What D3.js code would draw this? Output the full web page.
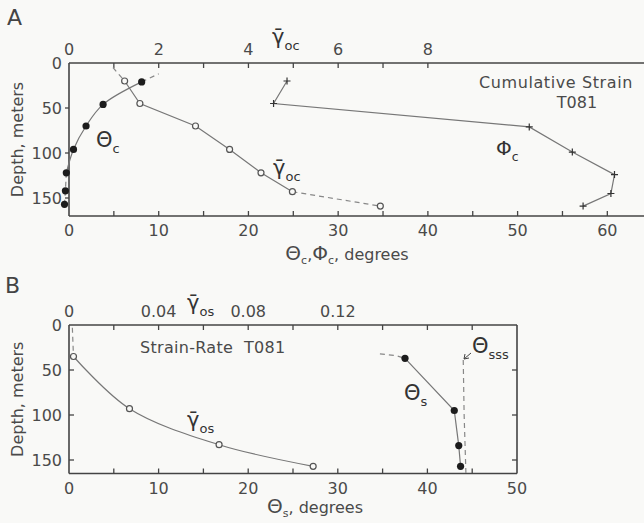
<!DOCTYPE html>
<html>
<head>
<meta charset="utf-8">
<style>
  body { margin: 0; background: #f9f9f7; }
  svg { font-family: "DejaVu Sans", sans-serif; fill: #4a4a4a; }
  .ax { stroke: #444; stroke-width: 1.6; fill: none; }
  .tk { stroke: #444; stroke-width: 1.3; }
  .ln { stroke: #777; stroke-width: 1.2; fill: none; }
  .dash { stroke: #888; stroke-width: 1.2; fill: none; stroke-dasharray: 5,4; }
  .lbl { font-size: 16px; }
</style>
</head>
<body>
<script src="https://cdn.jsdelivr.net/npm/d3@7"></script>
<div id="chart"></div>
<script>
// ---- panel A: cumulative strain ----
var depthThetaC = [21, 46, 70, 96, 122, 142, 157];
var thetaC      = [8.1, 3.8, 1.9, 0.5, -0.3, -0.4, -0.5];
var thetaCExtDepth = [21, 12];
var thetaCExt      = [8.1, 10];

var depthGammaOC = [20, 45, 70, 96, 122, 143, 159];
var gammaOC      = [1.24, 1.58, 2.82, 3.58, 4.28, 4.98, 6.94];
var gammaOCExtDepth = [5, 20];
var gammaOCExt      = [0.98, 1.24];

var depthPhiC = [20, 45, 71, 99, 124, 145, 159];
var phiC      = [24.3, 22.8, 51.3, 56.1, 60.8, 60.4, 57.3];

var tickDeg   = [0, 10, 20, 30, 40, 50, 60];
var tickTopA  = [0, 2, 4, 6, 8];
var tickDepth = [0, 50, 100, 150];

// ---- panel B: strain rate ----
var depthGammaOS = [35, 93, 133, 157];
var gammaOS      = [0.002, 0.027, 0.067, 0.109];
var gammaOSExtDepth = [3, 35];
var gammaOSExt      = [0.0015, 0.002];

var depthThetaS = [37, 95, 134, 157];
var thetaS      = [37.5, 43.0, 43.5, 43.7];
var thetaSExtDepth = [32, 34, 37];
var thetaSExt      = [34.7, 36.5, 37.5];

var depthThetaSSS = [39, 100, 165];
var thetaSSS      = [44.0, 44.1, 44.3];

var tickDegB  = [0, 10, 20, 30, 40, 50];
var tickTopB  = [0, 0.04, 0.08, 0.12];

var W = 644, H = 523;
var svg = d3.select("#chart").append("svg").attr("width", W).attr("height", H);

function zip(xs, ys) { return xs.map(function(v, i) { return [v, ys[i]]; }); }

function axes(g, x, xt, y, opt) {
  var x0 = x.range()[0], x1 = x.range()[1], y0 = y.range()[0], y1 = y.range()[1];
  g.append("line").attr("class", "ax").attr("x1", x0).attr("x2", x1).attr("y1", y0).attr("y2", y0);
  g.append("line").attr("class", "ax").attr("x1", x0).attr("x2", x1).attr("y1", y1).attr("y2", y1);
  g.append("line").attr("class", "ax").attr("x1", x0).attr("x2", x0).attr("y1", y0).attr("y2", y1);
  if (opt.right) g.append("line").attr("class", "ax").attr("x1", x1).attr("x2", x1).attr("y1", y0).attr("y2", y1);
  // bottom ticks every 5 deg, pointing in
  g.selectAll(".tb").data(d3.range(5, x.domain()[1], 5)).enter().append("line").attr("class", "tk")
    .attr("x1", function(d) { return x(d); }).attr("x2", function(d) { return x(d); })
    .attr("y1", y1).attr("y2", y1 - 5);
  g.selectAll(".tt").data(opt.topTicks).enter().append("line").attr("class", "tk")
    .attr("x1", function(d) { return xt(d); }).attr("x2", function(d) { return xt(d); })
    .attr("y1", y0).attr("y2", y0 + 5);
  g.selectAll(".tl").data(tickDepth.slice(1)).enter().append("line").attr("class", "tk")
    .attr("x1", x0 - opt.lt).attr("x2", x0 + opt.lt2)
    .attr("y1", function(d) { return y(d); }).attr("y2", function(d) { return y(d); });
  if (opt.right) g.selectAll(".tr").data(tickDepth.slice(1)).enter().append("line").attr("class", "tk")
    .attr("x1", x1).attr("x2", x1 - 5)
    .attr("y1", function(d) { return y(d); }).attr("y2", function(d) { return y(d); });
  // labels
  g.selectAll(".bl").data(opt.bottomLabels).enter().append("text").attr("class", "lbl")
    .attr("x", function(d) { return x(d); }).attr("y", y1 + 20).attr("text-anchor", "middle").text(function(d) { return d; });
  g.selectAll(".tl2").data(opt.topLabels).enter().append("text").attr("class", "lbl")
    .attr("x", function(d) { return xt(d); }).attr("y", y0 - 8).attr("text-anchor", "middle")
    .text(function(d) { return d; });
  g.selectAll(".ll").data(tickDepth).enter().append("text").attr("class", "lbl")
    .attr("x", x0 - 7).attr("y", function(d) { return y(d) + 6; }).attr("text-anchor", "end").text(function(d) { return d; });
  g.append("text").attr("class", "lbl").attr("text-anchor", "middle")
    .attr("transform", "translate(23," + ((y0 + y1) / 2) + ") rotate(-90)").text("Depth, meters");
}

function line(g, x, y, xs, ds, cls, curve) {
  var gen = d3.line().x(function(d) { return x(d[0]); }).y(function(d) { return y(d[1]); });
  if (curve) gen.curve(curve);
  g.append("path").attr("class", cls).attr("d", gen(zip(xs, ds)));
}
function dots(g, x, y, xs, ds, kind) {
  var pts = zip(xs, ds);
  if (kind === "filled") {
    g.selectAll(null).data(pts).enter().append("circle").attr("r", 3.6).attr("fill", "#1c1c1c")
      .attr("cx", function(d) { return x(d[0]); }).attr("cy", function(d) { return y(d[1]); });
  } else if (kind === "open") {
    g.selectAll(null).data(pts).enter().append("circle").attr("r", 3).attr("fill", "#f9f9f7")
      .attr("stroke", "#555").attr("stroke-width", 1.2)
      .attr("cx", function(d) { return x(d[0]); }).attr("cy", function(d) { return y(d[1]); });
  } else {
    g.selectAll(null).data(pts).enter().append("path").attr("stroke", "#333").attr("stroke-width", 1.2)
      .attr("d", function(d) { var cx = x(d[0]), cy = y(d[1]);
        return "M" + (cx - 3.5) + "," + cy + "H" + (cx + 3.5) + "M" + cx + "," + (cy - 3.5) + "V" + (cy + 3.5); });
  }
}
function sym(g, px, py, base, sub, size, bar) {
  var t = g.append("text").attr("x", px).attr("y", py).style("font-size", size + "px").style("fill", "#333");
  t.append("tspan").text(base + (bar ? "\u0304" : ""));
  t.append("tspan").attr("dy", size * 0.3).style("font-size", (size * 0.62) + "px").text(sub);
  return t;
}

// ===== Panel A =====
var gA = svg.append("g");
var xA = d3.scaleLinear().domain([0, 64.2]).range([69, 645]);
var xAt = d3.scaleLinear().domain([0, 64.2 / 5]).range([69, 645]);
var yA = d3.scaleLinear().domain([0, 170]).range([63, 216]);
axes(gA, xA, xAt, yA, { right: false, topTicks: d3.range(1, 9), bottomLabels: tickDeg, topLabels: tickTopA, lt: 4, lt2: 0 });

line(gA, xA, yA, thetaC.slice(0, 5), depthThetaC.slice(0, 5), "ln", d3.curveCatmullRom);
line(gA, xA, yA, thetaC.slice(4), depthThetaC.slice(4), "dash");
line(gA, xA, yA, thetaCExt, thetaCExtDepth, "dash");
line(gA, xAt, yA, gammaOC.slice(0, 6), depthGammaOC.slice(0, 6), "ln");
line(gA, xAt, yA, gammaOC.slice(5), depthGammaOC.slice(5), "dash");
line(gA, xAt, yA, gammaOCExt, gammaOCExtDepth, "dash");
line(gA, xA, yA, phiC, depthPhiC, "ln");
dots(gA, xA, yA, thetaC, depthThetaC, "filled");
dots(gA, xAt, yA, gammaOC, depthGammaOC, "open");
dots(gA, xA, yA, phiC, depthPhiC, "plus");

gA.append("text").attr("x", 7).attr("y", 25).style("font-size", "22px").style("fill", "#444").text("A");
sym(gA, 272, 44, "\u03b3", "oc", 21, true);
sym(gA, 96, 147, "\u0398", "c", 21, false);
sym(gA, 273, 175, "\u03b3", "oc", 21, true);
sym(gA, 496, 155, "\u03a6", "c", 20, false);
gA.append("text").attr("class", "lbl").attr("x", 556).attr("y", 88).attr("text-anchor", "middle")
  .style("letter-spacing", "0.6px").text("Cumulative Strain");
gA.append("text").attr("class", "lbl").attr("x", 577).attr("y", 108).attr("text-anchor", "middle").text("T081");
var tA = gA.append("text").attr("x", 347).attr("y", 260).attr("text-anchor", "middle").style("font-size", "16px");
tA.append("tspan").style("font-size", "20px").text("\u0398");
tA.append("tspan").attr("dy", 4).style("font-size", "11px").text("c");
tA.append("tspan").attr("dy", -4).text(",");
tA.append("tspan").style("font-size", "20px").text("\u03a6");
tA.append("tspan").attr("dy", 4).style("font-size", "11px").text("c");
tA.append("tspan").attr("dy", -4).text(", degrees");

// ===== Panel B =====
var gB = svg.append("g");
var xB = d3.scaleLinear().domain([0, 50]).range([69, 517]);
var xBt = d3.scaleLinear().domain([0, 0.2]).range([69, 517]);
var yB = d3.scaleLinear().domain([0, 165]).range([325, 473.5]);
axes(gB, xB, xBt, yB, { right: true, topTicks: d3.range(0.02, 0.2, 0.02), bottomLabels: tickDegB, topLabels: tickTopB, lt: 0, lt2: 5 });

line(gB, xBt, yB, gammaOS, depthGammaOS, "ln", d3.curveCatmullRom);
line(gB, xBt, yB, gammaOSExt, gammaOSExtDepth, "dash");
line(gB, xB, yB, thetaS, depthThetaS, "ln");
line(gB, xB, yB, thetaSExt, thetaSExtDepth, "dash");
line(gB, xB, yB, thetaSSS, depthThetaSSS, "dash");
dots(gB, xBt, yB, gammaOS, depthGammaOS, "open");
dots(gB, xB, yB, thetaS, depthThetaS, "filled");

gB.append("text").attr("x", 5).attr("y", 293).style("font-size", "22px").style("fill", "#444").text("B");
sym(gB, 187, 310, "\u03b3", "os", 21, true);
sym(gB, 187, 427, "\u03b3", "os", 21, true);
sym(gB, 404, 400, "\u0398", "s", 21, false);
sym(gB, 472, 353, "\u0398", "sss", 21, false);
gB.append("path").attr("stroke", "#444").attr("stroke-width", 1).attr("fill", "none")
  .attr("d", "M471,353 L464,359 M464,359 L465,354 M464,359 L469,358");
gB.append("text").attr("class", "lbl").attr("x", 140).attr("y", 353).attr("xml:space", "preserve")
  .style("letter-spacing", "0.3px").text("Strain-Rate  T081");
var tB = gB.append("text").attr("x", 315).attr("y", 513).attr("text-anchor", "middle").style("font-size", "16px");
tB.append("tspan").style("font-size", "20px").text("\u0398");
tB.append("tspan").attr("dy", 4).style("font-size", "11px").text("s");
tB.append("tspan").attr("dy", -4).text(", degrees");
</script>
</body>
</html>
